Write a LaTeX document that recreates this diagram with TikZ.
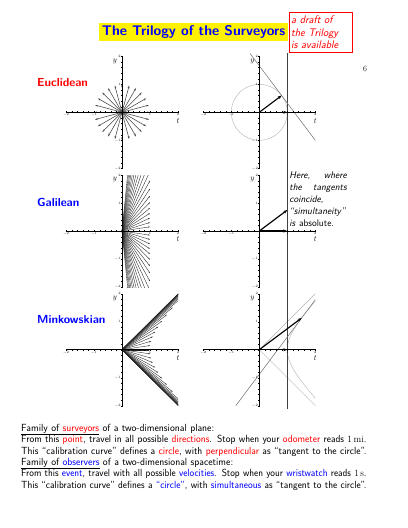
\documentclass[tikz,border=0pt]{standalone}
\usepackage{tikz}
\usetikzlibrary{arrows.meta}

% axes of one small plot, #1 is the prefix of its node names
\newcommand{\plotaxes}[1]{%
  \draw[axis] (-2,0) -- (2,0);
  \draw[axis] (0,-2) -- (0,2);
  \foreach \k in {-10,...,10} {
    \draw[tick] (\k/5,-0.035) -- (\k/5,0.035);
    \draw[tick] (-0.035,\k/5) -- (0.035,\k/5);
  }
  \foreach \k in {-2,-1,1,2} {
    \node[ticklabel, anchor=north] (#1-tx\k) at (\k,-0.04) {$\k$};
    \node[ticklabel, anchor=east] (#1-ty\k) at (-0.04,\k) {$\k$};
  }
  \node[axislabel] (#1-y) at (-0.25,1.82) {$y$};
  \node[axislabel] (#1-t) at (2,-0.3) {$t$};
}

\newcommand{\fullline}[1]{\resizebox{\linewidth}{\height}{#1}\\}

\begin{document}
\begin{tikzpicture}[
    x=1.5pt, y=-1.5pt,
    % Clean styles
    axis/.style={line width=1.4pt, black},
    tick/.style={line width=0.3pt, black},
    ticklabel/.style={font=\fontsize{3}{3}\selectfont, inner sep=0.3pt},
    axislabel/.style={font=\fontsize{13}{13}\selectfont, inner sep=0pt},
    family/.style={font=\fontsize{17.5}{20}\selectfont\sffamily\bfseries, anchor=west, inner sep=0pt},
    ray/.style={-{Stealth[length=4.5pt,width=2.4pt]}, black!75, line width=0.8pt},
    fan/.style={-{Stealth[length=3pt,width=1.6pt]}, black!85, line width=0.55pt},
    unitvec/.style={-{Stealth[length=6pt,width=4.5pt]}, line width=1.7pt, black},
    guide/.style={black!75, line width=0.8pt},
    curve/.style={black!30, line width=0.6pt},
    tangent/.style={black!55, line width=0.8pt},
    note/.style={font=\fontsize{14.5}{17.8}\selectfont\sffamily\itshape, inner sep=0pt}
]
\useasboundingbox (0,0) rectangle (408,528);

% === Heading ===
\node[fill=yellow, text=blue, font=\fontsize{21}{24}\selectfont\sffamily\bfseries,
      minimum width=283pt, minimum height=27.5pt, inner sep=0pt] (title) at (193.5,31.9)
    {The Trilogy of the Surveyors};
\node[draw=red, line width=1.1pt, text=red, font=\fontsize{16.5}{19}\selectfont\sffamily\itshape,
      text width=88pt, align=left, inner xsep=3pt, inner ysep=2pt,
      minimum width=94.5pt, minimum height=61pt] (draft) at (320.5,32.3)
    {a draft of\\the Trilogy\\is available};
\node[font=\fontsize{12}{14}\selectfont, inner sep=0pt] (pagenum) at (365,69) {6};

% === Row labels ===
\node[family, text=red] (eucl) at (37,83) {Euclidean};
\node[family, text=blue] (gali) at (37,202) {Galilean};
\node[family, text=blue] (mink) at (37,320) {Minkowskian};

% === Euclidean ===
\begin{scope}[shift={(122,112.3)}, x=42pt, y=42pt]
  \foreach \a in {0,15,...,345}
    \draw[ray] (0,0) -- (\a:1);
  \plotaxes{el}
\end{scope}
\begin{scope}[shift={(259.3,112.3)}, x=42pt, y=42pt]
  \draw[curve] (0,0) circle (1);
  \draw[guide] (1,-2.12) -- (1,2.12);
  \draw[tangent] (-0.33,2.1) -- (2,-1);
  \plotaxes{er}
  \draw[unitvec] (0,0) -- (0.8,0.6);
  \draw[unitvec] (0,0) -- (1,0);
\end{scope}

% === Galilean ===
\begin{scope}[shift={(122,231)}, x=42pt, y=42pt]
  \begin{scope}
    \clip (-2.1,-2.0) rectangle (2.1,2.0);
    \foreach \k in {1,...,20} {
      \pgfmathsetmacro\vel{sinh(0.15*\k)}
      \draw[fan] (0,0) -- (1,\vel);
      \draw[fan] (0,0) -- (1,-\vel);
    }
  \end{scope}
  \plotaxes{gl}
\end{scope}
\begin{scope}[shift={(259.3,231)}, x=42pt, y=42pt]
  \draw[guide] (1,-2.12) -- (1,2.12);
  \plotaxes{gr}
  \draw[unitvec] (0,0) -- (1,0.75);
  \draw[unitvec] (0,0) -- (1,0);
\end{scope}
\node[note, anchor=north west, text width=86pt, align=left] (remark) at (289.3,172)
    {Here,\hfill where\\the\hfill tangents\\coincide,\\ ``simultaneity''\\is \emph{absolute}.};

% === Minkowskian ===
\begin{scope}[shift={(122,349.7)}, x=42pt, y=42pt]
  \begin{scope}
    \clip (-2.1,-2.0) rectangle (2.0,2.0);
    \foreach \k in {0,...,20} {
      \pgfmathsetmacro\ch{cosh(0.15*\k)}
      \pgfmathsetmacro\sh{sinh(0.15*\k)}
      \draw[fan] (0,0) -- (\ch,\sh);
      \draw[fan] (0,0) -- (\ch,-\sh);
    }
  \end{scope}
  \plotaxes{ml}
\end{scope}
\begin{scope}[shift={(259.3,349.7)}, x=42pt, y=42pt]
  \draw[curve] plot[domain=-1.317:1.317, samples=40] ({cosh(\x)},{sinh(\x)});
  \draw[curve] (0,0) -- (2,2);
  \draw[curve] (0,0) -- (2,-2);
  \draw[guide] (1,-2.12) -- (1,2.12);
  \draw[tangent] (-0.84,-2) -- (2,1.785);
  \plotaxes{mr}
  \draw[unitvec] (0,0) -- (1.512,1.134);
  \draw[unitvec] (0,0) -- (1,0);
\end{scope}

% === Caption ===
\node[anchor=north west, text width=518pt, align=left, inner sep=0pt,
      font=\fontsize{15.5}{17}\selectfont\sffamily] (caption) at (21,424) {%
  \underline{Family of \textcolor{red}{surveyors}} of a two-dimensional plane:\\
  \fullline{From this \textcolor{red}{point}, travel in all possible \textcolor{red}{directions}. Stop when your \textcolor{red}{odometer} reads $1\,\mathrm{mi}$.}
  \fullline{This ``calibration curve'' defines a \textcolor{red}{circle}, with \textcolor{red}{perpendicular} as ``tangent to the circle''.}
  \underline{Family of \textcolor{blue}{observers}} of a two-dimensional spacetime:\\
  \fullline{From this \textcolor{blue}{event}, travel with all possible \textcolor{blue}{velocities}. Stop when your \textcolor{blue}{wristwatch} reads $1\,\mathrm{s}$.}
  \fullline{This ``calibration curve'' defines a \textcolor{blue}{``circle''}, with \textcolor{blue}{simultaneous} as ``tangent to the circle''.}
};

\end{tikzpicture}
\end{document}
